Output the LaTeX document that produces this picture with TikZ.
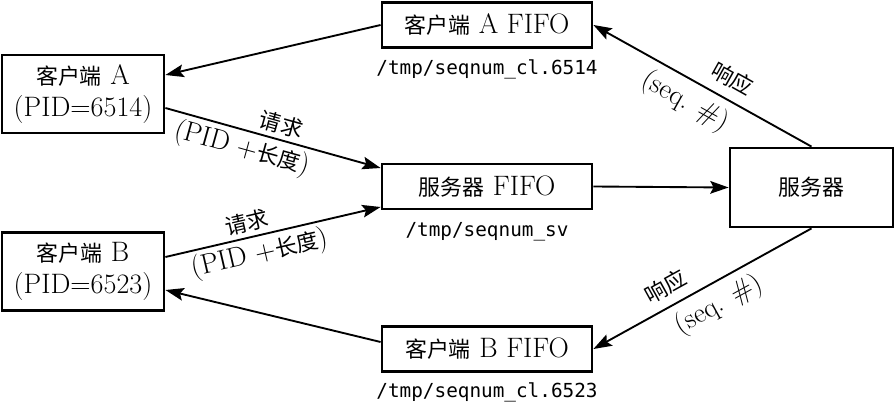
\documentclass[tikz,border=0pt]{standalone}
\usepackage{fontspec}
\newfontfamily\cjk{Noto Sans CJK SC}[Scale=0.78]
\setmonofont{DejaVu Sans Mono}
\usepackage{tikz}
\usetikzlibrary{arrows.meta,positioning}

\begin{document}
\begin{tikzpicture}[
    font=\fontsize{24}{28}\selectfont,
    >={Stealth[length=5.5mm,width=3.8mm,inset=1mm]},
    box/.style={draw,line width=2.4pt,align=center,inner sep=0pt},
    fifobox/.style={box,minimum width=6.3cm,minimum height=1.35cm},
    clientbox/.style={box,minimum width=4.86cm,minimum height=2.34cm},
    pathname/.style={font=\fontsize{16.5}{20}\selectfont\ttfamily,inner sep=0pt},
    msg/.style={line width=1.6pt},
  ]
  \useasboundingbox (0,0) rectangle (26.85,12.18);
  % clients on the left
  \node[clientbox] (cla) at (2.49,9.36) {{\cjk 客户端} A\\(PID=6514)};
  \node[clientbox] (clb) at (2.49,4.035) {{\cjk 客户端} B\\(PID=6523)};
  % the three FIFOs in the middle
  \node[fifobox] (fifoa) at (14.61,11.43) {{\cjk 客户端} A FIFO};
  \node[fifobox] (fifosv) at (14.61,6.585) {{\cjk 服务器} FIFO};
  \node[fifobox] (fifob) at (14.61,1.71) {{\cjk 客户端} B FIFO};
  \node[pathname,below=0.32cm of fifoa] (fifoaname) {/tmp/seqnum\_cl.6514};
  \node[pathname,below=0.36cm of fifosv] (fifosvname) {/tmp/seqnum\_sv};
  \node[pathname,below=0.28cm of fifob] (fifobname) {/tmp/seqnum\_cl.6523};
  % server on the right
  \node[box,minimum width=4.89cm,minimum height=2.37cm] (server) at (24.345,6.555) {{\cjk 服务器}};

  % requests
  \draw[msg,->] ([yshift=-0.42cm]cla.east) -- ([yshift=0.555cm]fifosv.west)
     node[pos=0.52,above,sloped] {{\cjk 请求}}
     node[pos=0.38,below,sloped] {(PID +{\cjk 长度})};
  \draw[msg,->] ([yshift=0.435cm]clb.east) -- ([yshift=-0.615cm]fifosv.west)
     node[pos=0.395,above,sloped] {{\cjk 请求}}
     node[pos=0.42,below,sloped] {(PID +{\cjk 长度})};
  \draw[msg,->] (fifosv.east) -- (server.west);
  % responses
  \draw[msg,<-] (fifoa.east) -- (server.north)
     node[pos=0.59,above=5pt,sloped] {{\cjk 响应}}
     node[pos=0.47,below=3pt,sloped] {(seq. \#)};
  \draw[msg,<-] (fifob.east) -- (server.south)
     node[pos=0.375,above=4pt,sloped] {{\cjk 响应}}
     node[pos=0.525,below=3pt,sloped] {(seq. \#)};
  \draw[msg,->] (fifoa.west) -- ([yshift=0.57cm]cla.east);
  \draw[msg,->] ([yshift=0.21cm]fifob.west) -- ([yshift=-0.555cm]clb.east);
\end{tikzpicture}
\end{document}
